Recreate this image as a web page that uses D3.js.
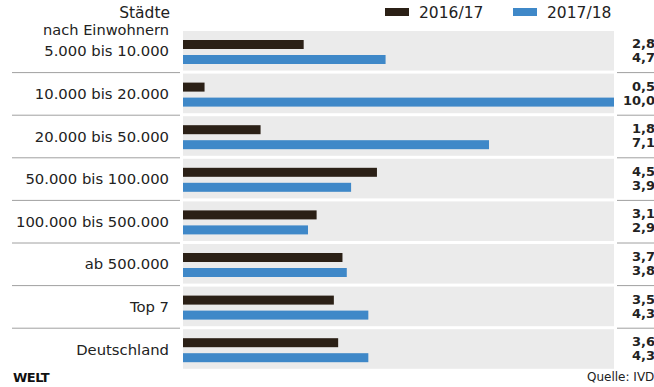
<!DOCTYPE html>
<html><head><meta charset="utf-8">
<script src="https://cdn.jsdelivr.net/npm/d3@7"></script>
<style>
html,body{margin:0;padding:0;background:#fff;overflow:hidden;}
svg{display:block;font-family:"DejaVu Sans",sans-serif;}
</style></head>
<body>
<svg id="chart" width="654" height="387"></svg>
<script>
const categories = ["5.000 bis 10.000","10.000 bis 20.000","20.000 bis 50.000","50.000 bis 100.000","100.000 bis 500.000","ab 500.000","Top 7","Deutschland"];
const seriesNames = ["2016/17","2017/18"];
const values2016 = [2.8,0.5,1.8,4.5,3.1,3.7,3.5,3.6];
const values2017 = [4.7,10.0,7.1,3.9,2.9,3.8,4.3,4.3];
const colors = ["#2b2016","#3f88c8"];

const svg = d3.select("#chart");
const x0 = 183;
const x = d3.scaleLinear().domain([0,10]).range([x0, 614]);
const rowStep = 42.6, top0 = 31;
const y = d3.scaleBand().domain(categories).range([top0, top0 + rowStep*categories.length]).paddingInner(0).paddingOuter(0);
const fmt = d3.formatLocale({decimal:",",thousands:".",grouping:[3],currency:["","€"]}).format(".1f");

// gray panels
svg.append("g").selectAll("rect").data(categories).join("rect")
  .attr("x", x0).attr("y", d => y(d))
  .attr("width", x(10) - x0).attr("height", y.bandwidth() - 3)
  .attr("fill", "#ebebeb");

// separators
const sep = svg.append("g");
categories.slice(1).forEach(c => {
  sep.append("line").attr("x1", 12).attr("x2", 180).attr("y1", y(c) - 1).attr("y2", y(c) - 1)
    .attr("stroke", "#a0a0a0").attr("stroke-width", 1);
  sep.append("line").attr("x1", 617).attr("x2", 654).attr("y1", y(c) - 1).attr("y2", y(c) - 1)
    .attr("stroke", "#a0a0a0").attr("stroke-width", 1);
});

// bars
const series = [values2016, values2017];
series.forEach((vals, si) => {
  svg.append("g").selectAll("rect").data(categories).join("rect")
    .attr("x", x0)
    .attr("y", (d) => y(d) + (si === 0 ? 9 : 24))
    .attr("width", (d, i) => x(vals[i]) - x0)
    .attr("height", 9)
    .attr("fill", colors[si]);
});

// category labels
svg.append("g").selectAll("text").data(categories).join("text")
  .attr("x", 169).attr("y", d => y(d) + 20).attr("dy", "0.36em")
  .attr("text-anchor", "end").attr("font-size", 14.8).attr("fill", "#222")
  .text(d => d);

// value labels
series.forEach((vals, si) => {
  svg.append("g").selectAll("text").data(categories).join("text")
    .attr("x", 655).attr("y", d => y(d) + (si === 0 ? 17 : 31))
    .attr("text-anchor", "end").attr("font-size", 13).attr("font-weight", "bold").attr("fill", "#222")
    .text((d, i) => fmt(vals[i]));
});

// header
svg.append("text").attr("x", 170).attr("y", 18).attr("text-anchor", "end")
  .attr("font-size", 15.5).attr("fill", "#222").text("Städte");
svg.append("text").attr("x", 169).attr("y", 35).attr("text-anchor", "end")
  .attr("font-size", 14.6).attr("fill", "#222").text("nach Einwohnern");

// legend
const legX = [385, 513];
seriesNames.forEach((n, i) => {
  svg.append("rect").attr("x", legX[i]).attr("y", 8).attr("width", 24).attr("height", 8).attr("fill", colors[i]);
  svg.append("text").attr("x", legX[i] + 34).attr("y", 18).attr("font-size", 15.5).attr("fill", "#222").text(n);
});

// footer
svg.append("text").attr("x", 13).attr("y", 382).attr("font-size", 13).attr("font-weight", "900")
  .attr("letter-spacing", "-0.5").attr("fill", "#111").text("WELT");
svg.append("text").attr("x", 587).attr("y", 381).attr("font-size", 12).attr("fill", "#222").text("Quelle: IVD");
</script>
</body></html>
